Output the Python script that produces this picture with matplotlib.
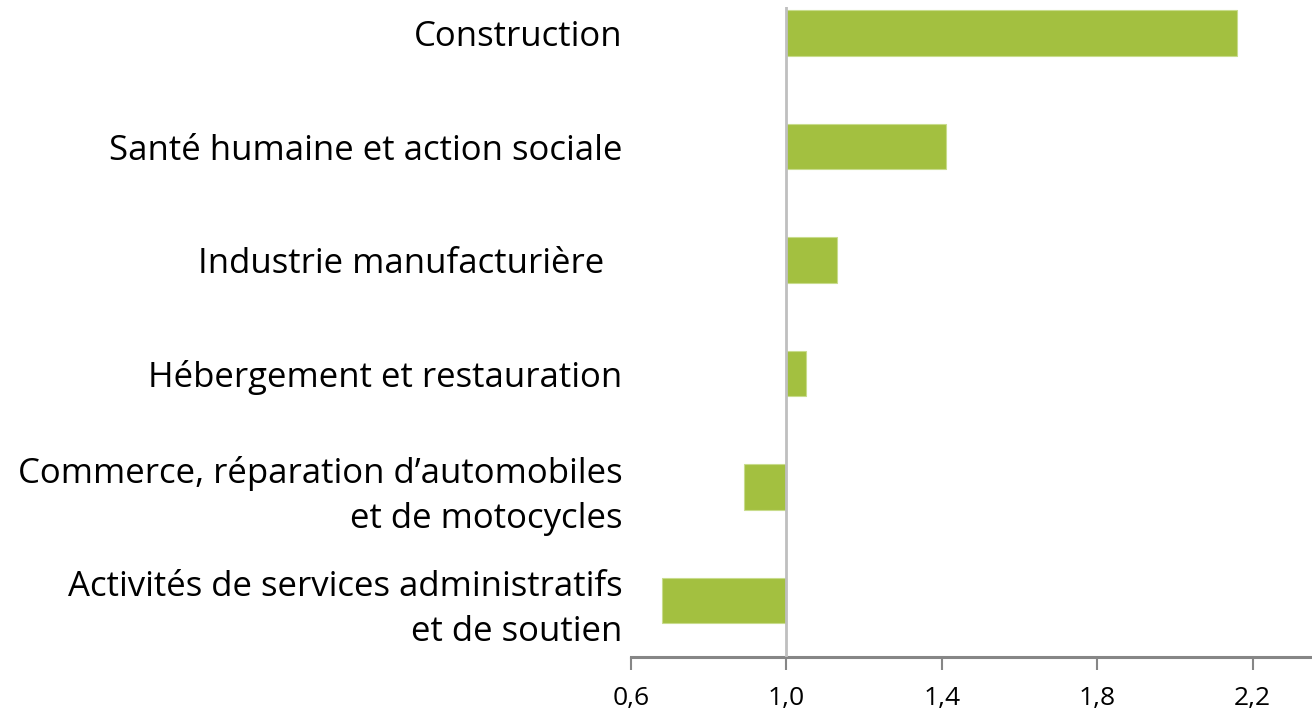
import matplotlib
matplotlib.use("Agg")
import matplotlib.pyplot as plt

# data, bottom to top
categories = [
    "Activités de services administratifs\net de soutien",
    "Commerce, réparation d’automobiles\net de motocycles",
    "Hébergement et restauration",
    "Industrie manufacturière  ",
    "Santé humaine et action sociale",
    "Construction",
]
values = [0.68, 0.89, 1.05, 1.13, 1.41, 2.16]
tick_values = [0.6, 1.0, 1.4, 1.8, 2.2]
tick_labels = ["0,6", "1,0", "1,4", "1,8", "2,2"]
baseline = 1.0

plt.rcParams["font.family"] = ["Open Sans", "DejaVu Sans"]

W, H = 1312, 714
fig = plt.figure(figsize=(W / 100, H / 100), dpi=100)
ax_left, ax_bottom, ax_top = 631, 657, 7
ax = fig.add_axes([ax_left / W, 1 - ax_bottom / H, 1 - ax_left / W, (ax_bottom - ax_top) / H])

ypos = list(range(len(categories)))
ax.barh(ypos, [v - baseline for v in values], left=baseline, height=0.4,
        color="#a3c040", edgecolor="#c8dc8c", linewidth=0.8, zorder=2)

ax.set_xlim(0.6, 2.353)
ax.set_ylim(-0.5, 5.23)

# vertical line at baseline
ax.axvline(baseline, color="#bfbfbf", linewidth=2, zorder=3)

for s in ["top", "right", "left"]:
    ax.spines[s].set_visible(False)
ax.spines["bottom"].set_color("#868686")
ax.spines["bottom"].set_linewidth(2.2)

ax.set_xticks(tick_values)
ax.set_xticklabels(tick_labels, fontsize=19)
ax.tick_params(axis="x", direction="out", length=9, width=1.5, color="#868686", pad=12)

ax.set_yticks(ypos)
ax.set_yticklabels(categories, fontsize=25, linespacing=1.42, ha="right")
ax.tick_params(axis="y", length=0, pad=6)
for lbl in ax.get_yticklabels():
    lbl.set_multialignment("right")

fig.savefig("out.png", dpi=100)
